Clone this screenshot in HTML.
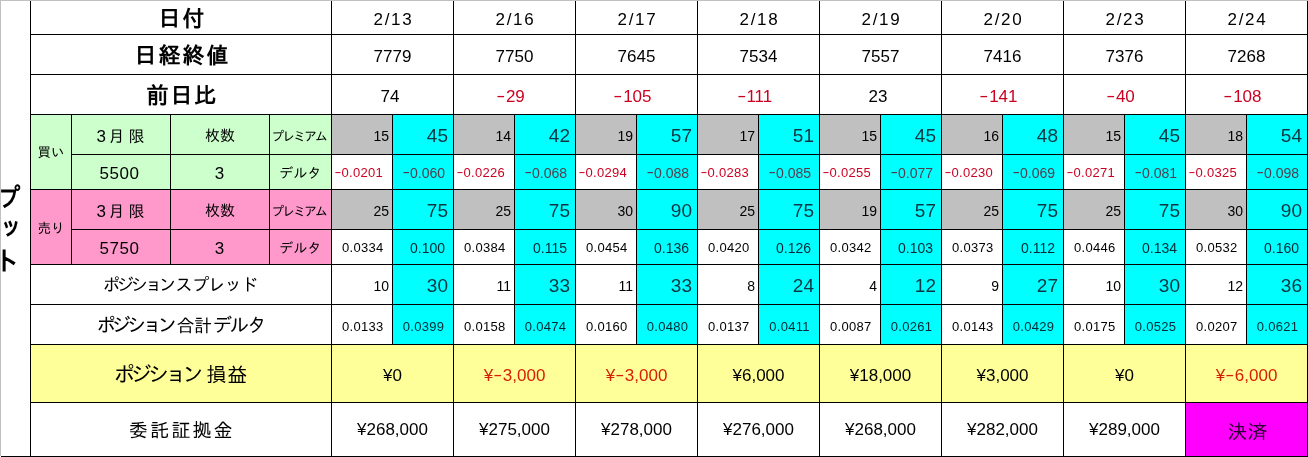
<!DOCTYPE html>
<html lang="ja"><head><meta charset="utf-8"><title>プット</title>
<style>
html,body{margin:0;padding:0;background:#fff;}
#s{position:relative;width:1308px;height:457px;overflow:hidden;background:#fff;font-family:"Liberation Sans","IPAGothic",sans-serif;color:#000;}
.c{position:absolute;box-sizing:border-box;border:1px solid #000;display:flex;align-items:center;justify-content:center;white-space:nowrap;overflow:hidden;line-height:1;}
.c span{position:relative;display:block;}
i.k{font-style:normal;}
i.m{font-style:normal;display:inline-block;position:relative;top:-1px;transform:scaleX(1.6);margin:0 2px 0 2px;}
.dl i.m,.dc i.m{transform:scaleX(1.6);margin:0 1.2px;}
.h{font-size:22px;font-weight:bold;letter-spacing:2px;}
.h span{top:1px;left:1.5px;}
.s{font-size:13.5px;}
.s span{top:1px;}
.s.u span{top:2px;}
.n16{font-size:16px;}
.n16 span{top:2px;left:-0.5px;}
.n16 i{font-style:normal;}
.n16 .d3{font-size:17px;margin-right:2.5px;}
.n16 .sp{letter-spacing:4px;}
.d3c span{left:-0.5px;}
.n15{font-size:15px;}
.n15 span{top:1px;}
.k12{font-size:13px;letter-spacing:-2.1px;}
.k12 span{top:2px;left:-2px;}
.k15{font-size:14px;letter-spacing:0.1px;}
.k15 span{top:1px;}
.d17{font-size:17px;}
.d17 span{top:1.5px;}
.dt{letter-spacing:1.7px;}
.dt span{left:1px;}
.d5{letter-spacing:0.5px;}
.d5 span{left:-1.5px;}
.r{color:#cc0022;}
.y.r{color:#d81e05;}
.dc.r{color:#503c4b;}
.bg{color:#0c3642;}
.dc,.dc4{color:#002a35;}
.l20c{color:#2a0030;}
.ng span{left:-4px;}
.ps span{left:-2.5px;}
.sm{font-size:14px;justify-content:flex-end;padding-right:3px;}
.sm span{top:1.5px;}
.bg{font-size:19px;justify-content:flex-end;padding-right:5px;}
.bg span{top:1px;}
.dl{font-size:13px;letter-spacing:0.3px;justify-content:flex-end;padding-right:8.5px;}
.dl span{top:0.5px;}
.dl.t span{top:1.5px;}
.dl.r{padding-right:9px;}
.dc{font-size:14px;justify-content:flex-end;padding-right:8px;}
.dc span{top:0.5px;}
.dc4{font-size:13px;letter-spacing:0.3px;}
.dc4 span{top:1.5px;left:0.5px;}
.l16{font-size:17.5px;letter-spacing:-1.1px;}
.l16 .k{letter-spacing:-3.5px;margin-right:2.5px;}
.l16 span{top:1px;left:-1px;}
.l18{font-size:18px;letter-spacing:-0.5px;}
.l18 .k{font-size:19.5px;letter-spacing:-4.2px;margin-right:3.5px;}
.l18 .k2{letter-spacing:-2.1px;margin:0 0 0 1px;}
.l18 span{top:1px;left:-0.5px;}
.l20{font-size:20px;letter-spacing:0.5px;}
.l20 .k{font-size:21.5px;letter-spacing:-4.3px;margin-right:7px;}
.l20 span{top:2px;left:-0.5px;}
.l20b{font-size:19px;letter-spacing:2.2px;}
.l20b span{top:1px;left:1px;}
.l20c{font-size:20px;}
.l20c span{top:2px;left:1px;}
.y span{top:1.5px;}
.z span{top:-0.5px;}
#v{position:absolute;left:1px;top:114px;width:29px;height:231px;overflow:hidden;font-family:"Liberation Sans","IPAGothic",sans-serif;font-weight:bold;font-size:26px;line-height:32px;}
#v b{position:absolute;left:-7px;width:26px;height:32px;text-align:center;display:block;}
#gt{position:absolute;left:0;top:0;width:1308px;height:1px;background:#c0c0c0;}
#gl{position:absolute;left:0;top:0;width:1px;height:456px;background:#c0c0c0;}
#bl{position:absolute;left:1px;top:456px;width:1307px;height:1px;background:#000;}
</style></head>
<body>
<div id="s">
<div id="v"><b style="top:68px;left:-5.5px;transform:scaleX(.85)">プ</b><b style="top:97px;left:-3px;transform:scaleX(.85)">ッ</b><b style="top:131px">ト</b></div>
<div class="c h" style="left:30px;top:0px;width:302px;height:35px;"><span>日付</span></div>
<div class="c h" style="left:30px;top:34px;width:302px;height:41px;"><span>日経終値</span></div>
<div class="c h" style="left:30px;top:74px;width:302px;height:41px;"><span>前日比</span></div>
<div class="c s" style="left:30px;top:114px;width:42px;height:76px;background:#ccffcc;"><span>買い</span></div>
<div class="c n16" style="left:71px;top:114px;width:100px;height:41px;background:#ccffcc;"><span><i class="d3">3</i><i class="sp">月</i>限</span></div>
<div class="c n15" style="left:170px;top:114px;width:100px;height:41px;background:#ccffcc;"><span>枚数</span></div>
<div class="c k12" style="left:269px;top:114px;width:63px;height:41px;background:#ccffcc;"><span>プレミアム</span></div>
<div class="c d17 d5" style="left:71px;top:154px;width:100px;height:36px;background:#ccffcc;"><span>5500</span></div>
<div class="c d17 d3c" style="left:170px;top:154px;width:100px;height:36px;background:#ccffcc;"><span>3</span></div>
<div class="c k15" style="left:269px;top:154px;width:63px;height:36px;background:#ccffcc;"><span>デルタ</span></div>
<div class="c s u" style="left:30px;top:189px;width:42px;height:76px;background:#ff99cc;"><span>売り</span></div>
<div class="c n16" style="left:71px;top:189px;width:100px;height:41px;background:#ff99cc;"><span><i class="d3">3</i><i class="sp">月</i>限</span></div>
<div class="c n15" style="left:170px;top:189px;width:100px;height:41px;background:#ff99cc;"><span>枚数</span></div>
<div class="c k12" style="left:269px;top:189px;width:63px;height:41px;background:#ff99cc;"><span>プレミアム</span></div>
<div class="c d17 d5" style="left:71px;top:229px;width:100px;height:36px;background:#ff99cc;"><span>5750</span></div>
<div class="c d17 d3c" style="left:170px;top:229px;width:100px;height:36px;background:#ff99cc;"><span>3</span></div>
<div class="c k15" style="left:269px;top:229px;width:63px;height:36px;background:#ff99cc;"><span>デルタ</span></div>
<div class="c l16" style="left:30px;top:264px;width:302px;height:41px;"><span><i class="k">ポジション</i>スプレッド</span></div>
<div class="c l18" style="left:30px;top:304px;width:302px;height:41px;"><span><i class="k">ポジション</i>合計<i class="k k2">デルタ</i></span></div>
<div class="c l20" style="left:30px;top:344px;width:302px;height:59px;background:#ffff99;"><span><i class="k">ポジション</i>損益</span></div>
<div class="c l20b" style="left:30px;top:402px;width:302px;height:55px;"><span>委託証拠金</span></div>
<div class="c d17 dt" style="left:331px;top:0px;width:123px;height:35px;"><span>2/13</span></div>
<div class="c d17" style="left:331px;top:34px;width:123px;height:41px;"><span>7779</span></div>
<div class="c d17 ps" style="left:331px;top:74px;width:123px;height:41px;"><span>74</span></div>
<div class="c sm" style="left:331px;top:114px;width:62px;height:41px;background:#c0c0c0;"><span>15</span></div>
<div class="c bg" style="left:392px;top:114px;width:62px;height:41px;background:#00ffff;"><span>45</span></div>
<div class="c dl r" style="left:331px;top:154px;width:62px;height:36px;"><span><i class="m">-</i>0.0201</span></div>
<div class="c dc r" style="left:392px;top:154px;width:62px;height:36px;background:#00ffff;"><span><i class="m">-</i>0.060</span></div>
<div class="c sm" style="left:331px;top:189px;width:62px;height:41px;background:#c0c0c0;"><span>25</span></div>
<div class="c bg" style="left:392px;top:189px;width:62px;height:41px;background:#00ffff;"><span>75</span></div>
<div class="c dl" style="left:331px;top:229px;width:62px;height:36px;"><span>0.0334</span></div>
<div class="c dc" style="left:392px;top:229px;width:62px;height:36px;background:#00ffff;"><span>0.100</span></div>
<div class="c sm" style="left:331px;top:264px;width:62px;height:41px;"><span>10</span></div>
<div class="c bg" style="left:392px;top:264px;width:62px;height:41px;background:#00ffff;"><span>30</span></div>
<div class="c dl t" style="left:331px;top:304px;width:62px;height:41px;"><span>0.0133</span></div>
<div class="c dc4" style="left:392px;top:304px;width:62px;height:41px;background:#00ffff;"><span>0.0399</span></div>
<div class="c d17 y" style="left:331px;top:344px;width:123px;height:59px;background:#ffff99;"><span>¥0</span></div>
<div class="c d17 z" style="left:331px;top:402px;width:123px;height:55px;"><span>¥268,000</span></div>
<div class="c d17 dt" style="left:453px;top:0px;width:123px;height:35px;"><span>2/16</span></div>
<div class="c d17" style="left:453px;top:34px;width:123px;height:41px;"><span>7750</span></div>
<div class="c d17 r ng" style="left:453px;top:74px;width:123px;height:41px;"><span><i class="m">-</i>29</span></div>
<div class="c sm" style="left:453px;top:114px;width:62px;height:41px;background:#c0c0c0;"><span>14</span></div>
<div class="c bg" style="left:514px;top:114px;width:62px;height:41px;background:#00ffff;"><span>42</span></div>
<div class="c dl r" style="left:453px;top:154px;width:62px;height:36px;"><span><i class="m">-</i>0.0226</span></div>
<div class="c dc r" style="left:514px;top:154px;width:62px;height:36px;background:#00ffff;"><span><i class="m">-</i>0.068</span></div>
<div class="c sm" style="left:453px;top:189px;width:62px;height:41px;background:#c0c0c0;"><span>25</span></div>
<div class="c bg" style="left:514px;top:189px;width:62px;height:41px;background:#00ffff;"><span>75</span></div>
<div class="c dl" style="left:453px;top:229px;width:62px;height:36px;"><span>0.0384</span></div>
<div class="c dc" style="left:514px;top:229px;width:62px;height:36px;background:#00ffff;"><span>0.115</span></div>
<div class="c sm" style="left:453px;top:264px;width:62px;height:41px;"><span>11</span></div>
<div class="c bg" style="left:514px;top:264px;width:62px;height:41px;background:#00ffff;"><span>33</span></div>
<div class="c dl t" style="left:453px;top:304px;width:62px;height:41px;"><span>0.0158</span></div>
<div class="c dc4" style="left:514px;top:304px;width:62px;height:41px;background:#00ffff;"><span>0.0474</span></div>
<div class="c d17 y r" style="left:453px;top:344px;width:123px;height:59px;background:#ffff99;"><span>¥<i class="m">-</i>3,000</span></div>
<div class="c d17 z" style="left:453px;top:402px;width:123px;height:55px;"><span>¥275,000</span></div>
<div class="c d17 dt" style="left:575px;top:0px;width:123px;height:35px;"><span>2/17</span></div>
<div class="c d17" style="left:575px;top:34px;width:123px;height:41px;"><span>7645</span></div>
<div class="c d17 r ng" style="left:575px;top:74px;width:123px;height:41px;"><span><i class="m">-</i>105</span></div>
<div class="c sm" style="left:575px;top:114px;width:62px;height:41px;background:#c0c0c0;"><span>19</span></div>
<div class="c bg" style="left:636px;top:114px;width:62px;height:41px;background:#00ffff;"><span>57</span></div>
<div class="c dl r" style="left:575px;top:154px;width:62px;height:36px;"><span><i class="m">-</i>0.0294</span></div>
<div class="c dc r" style="left:636px;top:154px;width:62px;height:36px;background:#00ffff;"><span><i class="m">-</i>0.088</span></div>
<div class="c sm" style="left:575px;top:189px;width:62px;height:41px;background:#c0c0c0;"><span>30</span></div>
<div class="c bg" style="left:636px;top:189px;width:62px;height:41px;background:#00ffff;"><span>90</span></div>
<div class="c dl" style="left:575px;top:229px;width:62px;height:36px;"><span>0.0454</span></div>
<div class="c dc" style="left:636px;top:229px;width:62px;height:36px;background:#00ffff;"><span>0.136</span></div>
<div class="c sm" style="left:575px;top:264px;width:62px;height:41px;"><span>11</span></div>
<div class="c bg" style="left:636px;top:264px;width:62px;height:41px;background:#00ffff;"><span>33</span></div>
<div class="c dl t" style="left:575px;top:304px;width:62px;height:41px;"><span>0.0160</span></div>
<div class="c dc4" style="left:636px;top:304px;width:62px;height:41px;background:#00ffff;"><span>0.0480</span></div>
<div class="c d17 y r" style="left:575px;top:344px;width:123px;height:59px;background:#ffff99;"><span>¥<i class="m">-</i>3,000</span></div>
<div class="c d17 z" style="left:575px;top:402px;width:123px;height:55px;"><span>¥278,000</span></div>
<div class="c d17 dt" style="left:697px;top:0px;width:123px;height:35px;"><span>2/18</span></div>
<div class="c d17" style="left:697px;top:34px;width:123px;height:41px;"><span>7534</span></div>
<div class="c d17 r ng" style="left:697px;top:74px;width:123px;height:41px;"><span><i class="m">-</i>111</span></div>
<div class="c sm" style="left:697px;top:114px;width:62px;height:41px;background:#c0c0c0;"><span>17</span></div>
<div class="c bg" style="left:758px;top:114px;width:62px;height:41px;background:#00ffff;"><span>51</span></div>
<div class="c dl r" style="left:697px;top:154px;width:62px;height:36px;"><span><i class="m">-</i>0.0283</span></div>
<div class="c dc r" style="left:758px;top:154px;width:62px;height:36px;background:#00ffff;"><span><i class="m">-</i>0.085</span></div>
<div class="c sm" style="left:697px;top:189px;width:62px;height:41px;background:#c0c0c0;"><span>25</span></div>
<div class="c bg" style="left:758px;top:189px;width:62px;height:41px;background:#00ffff;"><span>75</span></div>
<div class="c dl" style="left:697px;top:229px;width:62px;height:36px;"><span>0.0420</span></div>
<div class="c dc" style="left:758px;top:229px;width:62px;height:36px;background:#00ffff;"><span>0.126</span></div>
<div class="c sm" style="left:697px;top:264px;width:62px;height:41px;"><span>8</span></div>
<div class="c bg" style="left:758px;top:264px;width:62px;height:41px;background:#00ffff;"><span>24</span></div>
<div class="c dl t" style="left:697px;top:304px;width:62px;height:41px;"><span>0.0137</span></div>
<div class="c dc4" style="left:758px;top:304px;width:62px;height:41px;background:#00ffff;"><span>0.0411</span></div>
<div class="c d17 y" style="left:697px;top:344px;width:123px;height:59px;background:#ffff99;"><span>¥6,000</span></div>
<div class="c d17 z" style="left:697px;top:402px;width:123px;height:55px;"><span>¥276,000</span></div>
<div class="c d17 dt" style="left:819px;top:0px;width:123px;height:35px;"><span>2/19</span></div>
<div class="c d17" style="left:819px;top:34px;width:123px;height:41px;"><span>7557</span></div>
<div class="c d17 ps" style="left:819px;top:74px;width:123px;height:41px;"><span>23</span></div>
<div class="c sm" style="left:819px;top:114px;width:62px;height:41px;background:#c0c0c0;"><span>15</span></div>
<div class="c bg" style="left:880px;top:114px;width:62px;height:41px;background:#00ffff;"><span>45</span></div>
<div class="c dl r" style="left:819px;top:154px;width:62px;height:36px;"><span><i class="m">-</i>0.0255</span></div>
<div class="c dc r" style="left:880px;top:154px;width:62px;height:36px;background:#00ffff;"><span><i class="m">-</i>0.077</span></div>
<div class="c sm" style="left:819px;top:189px;width:62px;height:41px;background:#c0c0c0;"><span>19</span></div>
<div class="c bg" style="left:880px;top:189px;width:62px;height:41px;background:#00ffff;"><span>57</span></div>
<div class="c dl" style="left:819px;top:229px;width:62px;height:36px;"><span>0.0342</span></div>
<div class="c dc" style="left:880px;top:229px;width:62px;height:36px;background:#00ffff;"><span>0.103</span></div>
<div class="c sm" style="left:819px;top:264px;width:62px;height:41px;"><span>4</span></div>
<div class="c bg" style="left:880px;top:264px;width:62px;height:41px;background:#00ffff;"><span>12</span></div>
<div class="c dl t" style="left:819px;top:304px;width:62px;height:41px;"><span>0.0087</span></div>
<div class="c dc4" style="left:880px;top:304px;width:62px;height:41px;background:#00ffff;"><span>0.0261</span></div>
<div class="c d17 y" style="left:819px;top:344px;width:123px;height:59px;background:#ffff99;"><span>¥18,000</span></div>
<div class="c d17 z" style="left:819px;top:402px;width:123px;height:55px;"><span>¥268,000</span></div>
<div class="c d17 dt" style="left:941px;top:0px;width:123px;height:35px;"><span>2/20</span></div>
<div class="c d17" style="left:941px;top:34px;width:123px;height:41px;"><span>7416</span></div>
<div class="c d17 r ng" style="left:941px;top:74px;width:123px;height:41px;"><span><i class="m">-</i>141</span></div>
<div class="c sm" style="left:941px;top:114px;width:62px;height:41px;background:#c0c0c0;"><span>16</span></div>
<div class="c bg" style="left:1002px;top:114px;width:62px;height:41px;background:#00ffff;"><span>48</span></div>
<div class="c dl r" style="left:941px;top:154px;width:62px;height:36px;"><span><i class="m">-</i>0.0230</span></div>
<div class="c dc r" style="left:1002px;top:154px;width:62px;height:36px;background:#00ffff;"><span><i class="m">-</i>0.069</span></div>
<div class="c sm" style="left:941px;top:189px;width:62px;height:41px;background:#c0c0c0;"><span>25</span></div>
<div class="c bg" style="left:1002px;top:189px;width:62px;height:41px;background:#00ffff;"><span>75</span></div>
<div class="c dl" style="left:941px;top:229px;width:62px;height:36px;"><span>0.0373</span></div>
<div class="c dc" style="left:1002px;top:229px;width:62px;height:36px;background:#00ffff;"><span>0.112</span></div>
<div class="c sm" style="left:941px;top:264px;width:62px;height:41px;"><span>9</span></div>
<div class="c bg" style="left:1002px;top:264px;width:62px;height:41px;background:#00ffff;"><span>27</span></div>
<div class="c dl t" style="left:941px;top:304px;width:62px;height:41px;"><span>0.0143</span></div>
<div class="c dc4" style="left:1002px;top:304px;width:62px;height:41px;background:#00ffff;"><span>0.0429</span></div>
<div class="c d17 y" style="left:941px;top:344px;width:123px;height:59px;background:#ffff99;"><span>¥3,000</span></div>
<div class="c d17 z" style="left:941px;top:402px;width:123px;height:55px;"><span>¥282,000</span></div>
<div class="c d17 dt" style="left:1063px;top:0px;width:123px;height:35px;"><span>2/23</span></div>
<div class="c d17" style="left:1063px;top:34px;width:123px;height:41px;"><span>7376</span></div>
<div class="c d17 r ng" style="left:1063px;top:74px;width:123px;height:41px;"><span><i class="m">-</i>40</span></div>
<div class="c sm" style="left:1063px;top:114px;width:62px;height:41px;background:#c0c0c0;"><span>15</span></div>
<div class="c bg" style="left:1124px;top:114px;width:62px;height:41px;background:#00ffff;"><span>45</span></div>
<div class="c dl r" style="left:1063px;top:154px;width:62px;height:36px;"><span><i class="m">-</i>0.0271</span></div>
<div class="c dc r" style="left:1124px;top:154px;width:62px;height:36px;background:#00ffff;"><span><i class="m">-</i>0.081</span></div>
<div class="c sm" style="left:1063px;top:189px;width:62px;height:41px;background:#c0c0c0;"><span>25</span></div>
<div class="c bg" style="left:1124px;top:189px;width:62px;height:41px;background:#00ffff;"><span>75</span></div>
<div class="c dl" style="left:1063px;top:229px;width:62px;height:36px;"><span>0.0446</span></div>
<div class="c dc" style="left:1124px;top:229px;width:62px;height:36px;background:#00ffff;"><span>0.134</span></div>
<div class="c sm" style="left:1063px;top:264px;width:62px;height:41px;"><span>10</span></div>
<div class="c bg" style="left:1124px;top:264px;width:62px;height:41px;background:#00ffff;"><span>30</span></div>
<div class="c dl t" style="left:1063px;top:304px;width:62px;height:41px;"><span>0.0175</span></div>
<div class="c dc4" style="left:1124px;top:304px;width:62px;height:41px;background:#00ffff;"><span>0.0525</span></div>
<div class="c d17 y" style="left:1063px;top:344px;width:123px;height:59px;background:#ffff99;"><span>¥0</span></div>
<div class="c d17 z" style="left:1063px;top:402px;width:123px;height:55px;"><span>¥289,000</span></div>
<div class="c d17 dt" style="left:1185px;top:0px;width:123px;height:35px;"><span>2/24</span></div>
<div class="c d17" style="left:1185px;top:34px;width:123px;height:41px;"><span>7268</span></div>
<div class="c d17 r ng" style="left:1185px;top:74px;width:123px;height:41px;"><span><i class="m">-</i>108</span></div>
<div class="c sm" style="left:1185px;top:114px;width:62px;height:41px;background:#c0c0c0;"><span>18</span></div>
<div class="c bg" style="left:1246px;top:114px;width:62px;height:41px;background:#00ffff;"><span>54</span></div>
<div class="c dl r" style="left:1185px;top:154px;width:62px;height:36px;"><span><i class="m">-</i>0.0325</span></div>
<div class="c dc r" style="left:1246px;top:154px;width:62px;height:36px;background:#00ffff;"><span><i class="m">-</i>0.098</span></div>
<div class="c sm" style="left:1185px;top:189px;width:62px;height:41px;background:#c0c0c0;"><span>30</span></div>
<div class="c bg" style="left:1246px;top:189px;width:62px;height:41px;background:#00ffff;"><span>90</span></div>
<div class="c dl" style="left:1185px;top:229px;width:62px;height:36px;"><span>0.0532</span></div>
<div class="c dc" style="left:1246px;top:229px;width:62px;height:36px;background:#00ffff;"><span>0.160</span></div>
<div class="c sm" style="left:1185px;top:264px;width:62px;height:41px;"><span>12</span></div>
<div class="c bg" style="left:1246px;top:264px;width:62px;height:41px;background:#00ffff;"><span>36</span></div>
<div class="c dl t" style="left:1185px;top:304px;width:62px;height:41px;"><span>0.0207</span></div>
<div class="c dc4" style="left:1246px;top:304px;width:62px;height:41px;background:#00ffff;"><span>0.0621</span></div>
<div class="c d17 y r" style="left:1185px;top:344px;width:123px;height:59px;background:#ffff99;"><span>¥<i class="m">-</i>6,000</span></div>
<div class="c l20c" style="left:1185px;top:402px;width:123px;height:55px;background:#ff00ff;"><span>決済</span></div>
<div id="bl"></div><div id="gt"></div><div id="gl"></div>
</div>
</body></html>
